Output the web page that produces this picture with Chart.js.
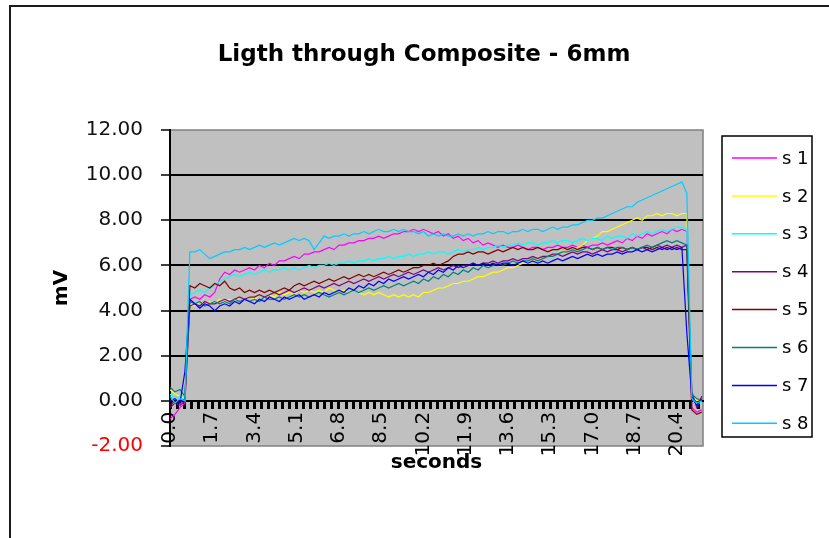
<!DOCTYPE html>
<html>
<head>
<meta charset="utf-8">
<script src="https://cdn.jsdelivr.net/npm/chart.js@4.4.0/dist/chart.umd.min.js"></script>
<style>
  html, body { margin: 0; padding: 0; background: #fff; }
  #wrap { width: 829px; height: 538px; }
</style>
</head>
<body>
<div id="wrap"><canvas id="grafico" width="829" height="538"></canvas></div>
<script>
// tiempos (s) y lecturas en mV
const seconds = [
  0.0, 0.2, 0.4, 0.6, 0.8, 1.0, 1.2, 1.4, 1.6, 1.8,
  2.0, 2.2, 2.4, 2.6, 2.8, 3.0, 3.2, 3.4, 3.6, 3.8,
  4.0, 4.2, 4.4, 4.6, 4.8, 5.0, 5.2, 5.4, 5.6, 5.8,
  6.0, 6.2, 6.4, 6.6, 6.8, 7.0, 7.2, 7.4, 7.6, 7.8,
  8.0, 8.2, 8.4, 8.6, 8.8, 9.0, 9.2, 9.4, 9.6, 9.8,
  10.0, 10.2, 10.4, 10.6, 10.8, 11.0, 11.2, 11.4, 11.6, 11.8,
  12.0, 12.2, 12.4, 12.6, 12.8, 13.0, 13.2, 13.4, 13.6, 13.8,
  14.0, 14.2, 14.4, 14.6, 14.8, 15.0, 15.2, 15.4, 15.6, 15.8,
  16.0, 16.2, 16.4, 16.6, 16.8, 17.0, 17.2, 17.4, 17.6, 17.8,
  18.0, 18.2, 18.4, 18.6, 18.8, 19.0, 19.2, 19.4, 19.6, 19.8,
  20.0, 20.2, 20.4, 20.6, 20.8, 21.0, 21.2, 21.4
];

const s1 = [
  -0.8, -0.6, -0.3, -0.1, 4.5, 4.6, 4.5, 4.7, 4.6, 4.8,
  5.4, 5.7, 5.6, 5.8, 5.7, 5.8, 5.9, 5.8, 6.0, 5.9,
  6.1, 6.0, 6.2, 6.2, 6.3, 6.4, 6.3, 6.5, 6.5, 6.6,
  6.6, 6.7, 6.8, 6.7, 6.9, 6.9, 7.0, 7.0, 7.1, 7.1,
  7.2, 7.2, 7.3, 7.2, 7.3, 7.4, 7.4, 7.5, 7.5, 7.6,
  7.5, 7.6, 7.5, 7.4, 7.5, 7.3, 7.4, 7.2, 7.3, 7.1,
  7.2, 7.0, 7.1, 6.9, 7.0, 6.9, 6.8, 6.9, 6.8, 6.8,
  6.9, 6.8, 6.7, 6.8, 6.8, 6.7, 6.8, 6.8, 6.9, 6.8,
  6.8, 6.9, 6.8, 6.9, 6.8, 6.9, 6.9, 7.0, 6.9, 7.0,
  7.1, 7.0, 7.2, 7.1, 7.3, 7.2, 7.4, 7.3, 7.4, 7.5,
  7.4, 7.6, 7.5, 7.6, 7.5, -0.3, -0.5, -0.4
];
const s2 = [
  0.5, 0.3, 0.2, 0.1, 4.3, 4.2, 4.4, 4.3, 4.4, 4.3,
  4.5, 4.4, 4.5, 4.4, 4.6, 4.5, 4.6, 4.5, 4.7, 4.6,
  4.7, 4.6, 4.8, 4.7, 4.8, 4.7, 4.9, 4.8, 4.9, 4.8,
  4.9, 4.8, 5.0, 4.9, 4.8, 4.9, 4.8, 4.9, 4.8, 4.7,
  4.8, 4.7, 4.8, 4.7, 4.6, 4.7, 4.6, 4.7, 4.6, 4.7,
  4.6, 4.8, 4.8, 4.9, 5.0, 5.0, 5.1, 5.2, 5.2, 5.3,
  5.3, 5.4, 5.5, 5.5, 5.6, 5.7, 5.7, 5.8, 5.9, 5.9,
  6.0, 6.1, 6.1, 6.2, 6.3, 6.3, 6.4, 6.5, 6.5, 6.6,
  6.6, 6.7, 6.8, 6.9, 7.1, 7.2, 7.3, 7.5, 7.5, 7.6,
  7.7, 7.8, 7.9, 8.0, 8.1, 8.0, 8.2, 8.2, 8.3, 8.2,
  8.3, 8.3, 8.2, 8.3, 8.3, 0.2, 0.0, 0.1
];
const s3 = [
  0.3, 0.1, 0.2, 0.0, 4.7, 4.8, 4.9, 4.8, 5.0, 5.1,
  5.3, 5.4, 5.5, 5.6, 5.5, 5.6, 5.7, 5.6, 5.7, 5.8,
  5.7, 5.8, 5.8, 5.9, 5.8, 5.9, 5.8, 5.9, 6.0, 5.9,
  6.0, 6.0, 6.1, 6.0, 6.1, 6.1, 6.2, 6.1, 6.2, 6.2,
  6.3, 6.2, 6.3, 6.3, 6.4, 6.3, 6.4, 6.4, 6.5, 6.4,
  6.5, 6.5, 6.6, 6.5, 6.6, 6.6, 6.5, 6.6, 6.7, 6.6,
  6.7, 6.7, 6.8, 6.7, 6.8, 6.8, 6.9, 6.8, 6.9, 6.9,
  7.0, 6.9, 7.0, 7.0, 6.9, 7.0, 7.0, 7.1, 7.0, 7.1,
  7.1, 7.0, 7.1, 7.2, 7.1, 7.2, 7.2, 7.1, 7.3, 7.2,
  7.3, 7.3, 7.2, 7.4, 7.3, 7.4, 7.5, 7.4, 7.5, 7.6,
  7.5, 7.6, 7.7, 7.7, 7.6, 0.1, -0.2, 0.0
];
const s4 = [
  -0.3, -0.1, -0.2, 0.0, 4.2, 4.3, 4.2, 4.4, 4.3, 4.3,
  4.4, 4.5, 4.4, 4.5, 4.6, 4.5, 4.6, 4.6, 4.7, 4.6,
  4.7, 4.8, 4.7, 4.8, 4.9, 4.8, 4.9, 5.0, 4.9, 5.0,
  5.1, 5.0, 5.1, 5.2, 5.1, 5.2, 5.3, 5.2, 5.3, 5.4,
  5.3, 5.4, 5.5, 5.4, 5.5, 5.6, 5.5, 5.6, 5.7, 5.6,
  5.7, 5.8, 5.7, 5.8, 5.9, 5.8, 5.9, 6.0, 5.9, 6.0,
  6.0, 6.1, 6.0, 6.1, 6.1, 6.2, 6.1, 6.2, 6.2, 6.3,
  6.2, 6.3, 6.3, 6.4, 6.3, 6.4, 6.4, 6.5, 6.5, 6.4,
  6.5, 6.6, 6.5, 6.6, 6.6, 6.5, 6.6, 6.7, 6.6, 6.7,
  6.7, 6.6, 6.7, 6.8, 6.7, 6.8, 6.7, 6.8, 6.9, 6.8,
  6.9, 6.8, 6.9, 6.8, 6.9, 0.4, -0.3, 0.2
];
const s5 = [
  -0.2, 0.0, -0.1, 0.1, 5.1, 5.0, 5.2, 5.1, 5.0, 5.2,
  5.1, 5.3, 5.0, 4.9, 5.0, 4.8, 4.9, 4.8, 4.9, 4.8,
  4.9, 4.8, 4.9, 5.0, 4.9, 5.1, 5.2, 5.1, 5.2, 5.3,
  5.2, 5.3, 5.4, 5.3, 5.4, 5.5, 5.4, 5.5, 5.6, 5.5,
  5.6, 5.5, 5.6, 5.7, 5.6, 5.7, 5.8, 5.7, 5.8, 5.9,
  5.9, 6.0, 6.0, 6.1, 6.0, 6.1, 6.2, 6.4, 6.5, 6.5,
  6.6, 6.5, 6.6, 6.6, 6.5, 6.6, 6.7, 6.6, 6.7, 6.8,
  6.7, 6.8, 6.7, 6.7, 6.8, 6.7, 6.6, 6.7, 6.7, 6.8,
  6.7, 6.8, 6.7, 6.8, 6.8, 6.7, 6.8, 6.7, 6.8, 6.8,
  6.7, 6.8, 6.7, 6.8, 6.7, 6.8, 6.8, 6.7, 6.8, 6.7,
  6.8, 6.7, 6.8, 6.7, 6.7, -0.4, -0.6, -0.5
];
const s6 = [
  0.6, 0.4, 0.5, 0.2, 4.4, 4.3, 4.4, 4.2, 4.3, 4.4,
  4.3, 4.4, 4.3, 4.5, 4.4, 4.5, 4.4, 4.5, 4.4, 4.6,
  4.5, 4.5, 4.6, 4.5, 4.6, 4.7, 4.6, 4.7, 4.6, 4.7,
  4.8, 4.7, 4.6, 4.7, 4.8, 4.7, 4.8, 4.9, 4.8, 4.9,
  5.0, 4.9, 5.0, 5.1, 5.0, 5.1, 5.2, 5.1, 5.2, 5.3,
  5.2, 5.4, 5.3, 5.5, 5.4, 5.6, 5.5, 5.7, 5.6, 5.8,
  5.7, 5.9, 5.8, 6.0, 5.9, 6.0, 6.1, 6.0, 6.1, 6.2,
  6.1, 6.2, 6.2, 6.3, 6.2, 6.3, 6.4, 6.4, 6.5, 6.6,
  6.6, 6.7, 6.6, 6.7, 6.8, 6.7, 6.8, 6.7, 6.8, 6.7,
  6.8, 6.8, 6.7, 6.8, 6.7, 6.8, 6.9, 6.8, 6.9, 7.0,
  7.1, 7.0, 7.1, 7.0, 6.9, 0.3, 0.1, 0.0
];
const s7 = [
  0.0, 0.1, -0.1, 1.3, 4.5, 4.3, 4.1, 4.3, 4.2, 4.0,
  4.2, 4.3, 4.2, 4.4, 4.3, 4.5, 4.4, 4.3, 4.5, 4.4,
  4.6, 4.5, 4.4, 4.6, 4.5, 4.6, 4.7, 4.5, 4.6, 4.7,
  4.6, 4.8, 4.7, 4.8, 4.9, 4.8, 5.0, 4.9, 5.1, 5.0,
  5.2, 5.1, 5.3, 5.2, 5.4, 5.3, 5.4, 5.5, 5.4, 5.5,
  5.6, 5.5, 5.7, 5.6, 5.8, 5.7, 5.9, 5.8, 6.0, 5.9,
  6.0, 6.1, 6.0, 6.1, 6.0, 6.1, 6.0, 6.1, 6.1, 6.0,
  6.1, 6.2, 6.1, 6.2, 6.1, 6.2, 6.1, 6.2, 6.3, 6.2,
  6.3, 6.4, 6.3, 6.4, 6.5, 6.4, 6.5, 6.4, 6.5, 6.5,
  6.6, 6.5, 6.6, 6.6, 6.7, 6.6, 6.7, 6.6, 6.7, 6.8,
  6.7, 6.8, 6.7, 6.8, 3.0, 0.2, -0.2, 0.1
];
const s8 = [
  0.2, -0.1, 0.1, 0.0, 6.6, 6.6, 6.7, 6.5, 6.3, 6.4,
  6.5, 6.6, 6.6, 6.7, 6.7, 6.8, 6.7, 6.8, 6.9, 6.8,
  6.9, 7.0, 6.9, 7.0, 7.1, 7.2, 7.1, 7.2, 7.1, 6.7,
  7.0, 7.3, 7.2, 7.3, 7.3, 7.4, 7.3, 7.4, 7.4, 7.5,
  7.4, 7.5, 7.6, 7.5, 7.5, 7.6, 7.5, 7.6, 7.5, 7.5,
  7.4, 7.5, 7.3, 7.4, 7.3, 7.4, 7.3, 7.3, 7.4, 7.3,
  7.4, 7.3, 7.4, 7.4, 7.5, 7.4, 7.5, 7.5, 7.4, 7.5,
  7.5, 7.6, 7.5, 7.6, 7.6, 7.5, 7.6, 7.7, 7.6, 7.7,
  7.7, 7.8, 7.8, 7.9, 8.0, 8.0, 8.1, 8.1, 8.2, 8.3,
  8.4, 8.5, 8.6, 8.6, 8.8, 8.9, 9.0, 9.1, 9.2, 9.3,
  9.4, 9.5, 9.6, 9.7, 9.2, 0.1, -0.1, 0.0
];

const seriesNames = ['s 1', 's 2', 's 3', 's 4', 's 5', 's 6', 's 7', 's 8'];
const seriesValues = [s1, s2, s3, s4, s5, s6, s7, s8];
const seriesColors = ['#ff00ff', '#ffff00', '#00ffff', '#800080', '#800000', '#008080', '#0000ff', '#00ccff'];
const xTickLabels = ['0.0', '1.7', '3.4', '5.1', '6.8', '8.5', '10.2', '11.9', '13.6', '15.3', '17.0', '18.7', '20.4'];
const yMin = -2, yMax = 12, yStep = 2;

const fontFam = '"DejaVu Sans", Verdana, sans-serif';

// fondo gris del area de trazado y marco del grafico
const fondoPlot = {
    id: 'fondoPlot',
    beforeDraw(chart) {
        const { ctx, chartArea: a } = chart;
        ctx.save();
        ctx.strokeStyle = '#1a1a1a';
        ctx.lineWidth = 2;
        ctx.strokeRect(10, 6, chart.width + 20, chart.height + 20);
        ctx.fillStyle = '#c0c0c0';
        ctx.fillRect(a.left, a.top, a.right - a.left, a.bottom - a.top);
        ctx.strokeStyle = '#808080';
        ctx.lineWidth = 1.5;
        ctx.strokeRect(a.left, a.top, a.right - a.left, a.bottom - a.top);
        ctx.restore();
    }
};

// titulo y leyenda con recuadro, como en Excel
const tituloLeyenda = {
    id: 'tituloLeyenda',
    afterDraw(chart) {
        const { ctx } = chart;
        ctx.save();
        ctx.fillStyle = '#000';
        ctx.font = 'bold 23px ' + fontFam;
        ctx.textAlign = 'center';
        ctx.textBaseline = 'middle';
        ctx.fillText('Ligth through Composite - 6mm', 424, 55);

        const bx = 722, by = 136, bw = 90, bh = 301;
        ctx.fillStyle = '#fff';
        ctx.fillRect(bx, by, bw, bh);
        ctx.strokeStyle = '#000';
        ctx.lineWidth = 1.5;
        ctx.strokeRect(bx, by, bw, bh);
        ctx.font = '18px ' + fontFam;
        ctx.textAlign = 'left';
        chart.data.datasets.forEach(function (ds, i) {
            const ly = 158 + i * 37.9;
            ctx.strokeStyle = ds.borderColor;
            ctx.lineWidth = 1.5;
            ctx.beginPath();
            ctx.moveTo(732, ly);
            ctx.lineTo(777, ly);
            ctx.stroke();
            ctx.fillStyle = '#000';
            ctx.fillText(ds.label, 782, ly + 1);
        });
        ctx.restore();
    }
};

document.addEventListener("DOMContentLoaded", function () {
    let datasets = seriesNames.map(function (name, i) {
        return {
            label: name,
            data: seconds.map((t, k) => ({ x: t, y: seriesValues[i][k] })),
            borderColor: seriesColors[i],
            backgroundColor: seriesColors[i],
            borderWidth: 1.2,
            pointRadius: 0,
            fill: false,
            tension: 0,
            order: seriesNames.length - i
        };
    });

    let ctx = document.getElementById('grafico').getContext('2d');
    new Chart(ctx, {
        type: 'line',
        data: { datasets: datasets },
        options: {
            responsive: false,
            animation: false,
            layout: { padding: { left: 40, right: 126, top: 130, bottom: 92 } },
            plugins: {
                legend: { display: false },
                tooltip: { enabled: false },
                title: { display: false }
            },
            scales: {
                x: {
                    type: 'linear',
                    position: { y: 0 },
                    min: 0,
                    max: 21.45,
                    afterBuildTicks: function (scale) {
                        // marca cada 1/6 del intervalo entre etiquetas
                        let ticks = [];
                        for (let k = 0; k * 1.7 / 6 <= 21.45; k++) {
                            ticks.push({ value: k * 1.7 / 6 });
                        }
                        scale.ticks = ticks;
                    },
                    ticks: {
                        autoSkip: false,
                        minRotation: 90,
                        maxRotation: 90,
                        padding: 4,
                        color: '#000',
                        font: { family: fontFam, size: 20 },
                        callback: function (value, index) {
                            if (index % 6 !== 0) return '';
                            return xTickLabels[index / 6] || '';
                        }
                    },
                    grid: {
                        drawOnChartArea: false,
                        drawTicks: true,
                        tickLength: 7,
                        tickWidth: 3,
                        tickColor: '#000'
                    },
                    border: { display: true, color: '#000', width: 2 },
                    title: {
                        display: true,
                        text: 'seconds',
                        color: '#000',
                        font: { family: fontFam, size: 20, weight: 'bold' },
                        padding: { top: -10, bottom: 0 }
                    }
                },
                y: {
                    min: yMin,
                    max: yMax,
                    afterFit: function (scale) { scale.width = 130; },
                    ticks: {
                        stepSize: yStep,
                        padding: 18,
                        font: { family: fontFam, size: 20 },
                        color: function (c) { return c.tick.value < 0 ? '#ff0000' : '#111'; },
                        callback: function (v) { return v.toFixed(2); }
                    },
                    grid: {
                        color: function (c) {
                            return (c.tick.value === yMax || c.tick.value === yMin) ? 'rgba(0,0,0,0)' : '#000';
                        },
                        lineWidth: 2,
                        tickLength: 9,
                        tickColor: '#000',
                        tickWidth: 1.5
                    },
                    border: { display: true, color: '#000', width: 2 },
                    title: {
                        display: true,
                        text: 'mV',
                        color: '#000',
                        font: { family: fontFam, size: 20, weight: 'bold' },
                        padding: { top: 10, bottom: 0 }
                    }
                }
            }
        },
        plugins: [fondoPlot, tituloLeyenda]
    });
});
</script>
</body>
</html>
